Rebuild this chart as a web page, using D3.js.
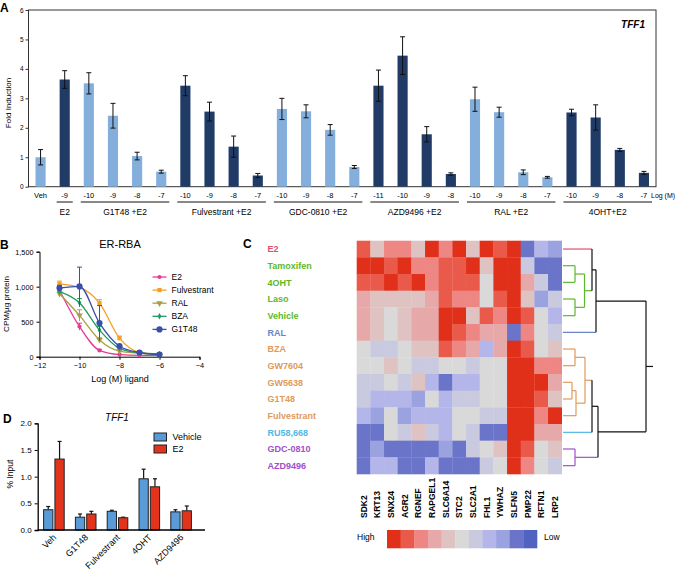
<!DOCTYPE html>
<html>
<head>
<meta charset="utf-8">
<script src="https://cdn.jsdelivr.net/npm/d3@7"></script>
<style>
  body { margin: 0; background: #fff; }
  svg { font-family: 'Liberation Sans', Arial, sans-serif; }
</style>
</head>
<body>
<svg class="fig" width="677" height="573"></svg>
<script>
// ---------- panel A data ----------
const aGroupNames = ['', 'E2', 'G1T48 +E2', 'Fulvestrant +E2', 'GDC-0810 +E2', 'AZD9496 +E2', 'RAL +E2', '4OHT+E2'];
const aDoses = [['Veh'], ['-9'], ['-10', '-9', '-8', '-7'], ['-10', '-9', '-8', '-7'], ['-10', '-9', '-8', '-7'],
                ['-11', '-10', '-9', '-8'], ['-10', '-9', '-8', '-7'], ['-10', '-9', '-8', '-7']];
const aValues = [[1.00], [3.64], [3.51, 2.41, 1.04, 0.51], [3.43, 2.55, 1.36, 0.38], [2.64, 2.56, 1.93, 0.67],
                 [3.43, 4.45, 1.78, 0.43], [2.97, 2.53, 0.49, 0.32], [2.52, 2.35, 1.25, 0.47]];
const aErrors = [[0.26], [0.30], [0.36, 0.42, 0.13, 0.05], [0.34, 0.32, 0.36, 0.07], [0.36, 0.22, 0.18, 0.05],
                 [0.53, 0.64, 0.26, 0.04], [0.41, 0.17, 0.08, 0.03], [0.11, 0.43, 0.05, 0.05]];
const aDark = [false, true, false, true, false, true, false, true];

// ---------- panel B data ----------
const bDoses = [-11, -10, -9, -8, -7, -6];
const bNames = ['E2', 'Fulvestrant', 'RAL', 'BZA', 'G1T48'];
const bValues = [
  [950, 430, 90, 30, 20, 20],
  [1040, 990, 765, 265, 60, 30],
  [900, 590, 240, 80, 50, 30],
  [930, 770, 380, 120, 55, 40],
  [980, 1005, 480, 150, 60, 30]
];
const bErrors = [
  [40, 50, 15, 5, 5, 5],
  [40, 30, 50, 30, 10, 5],
  [30, 80, 30, 10, 5, 5],
  [30, 60, 50, 20, 5, 5],
  [40, 275, 250, 20, 10, 5]
];

// ---------- panel C data ----------
const cRows = ['E2', 'Tamoxifen', '4OHT', 'Laso', 'Vehicle', 'RAL', 'BZA', 'GW7604', 'GW5638', 'G1T48',
               'Fulvestrant', 'RU58,668', 'GDC-0810', 'AZD9496'];
const cGenes = ['SDK2', 'KRT13', 'SNX24', 'AGR2', 'RGNEF', 'RAPGEL1', 'SLC6A14', 'STC2', 'SLC2A1', 'FHL1',
                'YWHAZ', 'SLFN5', 'PMP22', 'RFTN1', 'LRP2'];
const cLevels = [
  [4, 1, 3, 3, 1, 5, 3, 5, 1, 5, 4, 5, -4, -2, -3],
  [5, 5, 4, 5, 3, 3, 4, 4, 5, 1, 5, 5, -1, -4, -4],
  [4, 4, 5, 4, 5, 3, 4, 4, 4, 0, 5, 5, 2, -1, -4],
  [2, 1, 1, 1, 1, 2, 4, 3, 3, 0, 4, 5, 1, -3, -1],
  [2, 1, 0, 1, 2, 2, 5, 5, 1, 4, 3, 5, 4, 0, -2],
  [2, 1, 0, 1, 2, 2, 5, 4, 3, 2, 2, -4, 3, 0, -1],
  [0, -1, -1, 0, 1, 1, 4, 3, 2, -2, 2, 5, 4, 0, 1],
  [0, 0, 1, 0, -1, -1, 0, 0, -1, 0, 0, 5, 5, 3, 3],
  [-1, -1, 0, -1, 1, -2, -4, -2, -2, 0, 0, 5, 5, 5, 2],
  [-1, -2, -2, -2, -3, 0, -2, -1, -1, 0, 0, 5, 5, 4, 1],
  [-2, -3, 0, -3, -2, -2, -2, 0, 0, -1, -1, 5, 5, 3, 5],
  [-4, -4, 0, -1, 1, -1, -2, 0, -1, -4, -4, 5, 5, 2, 2],
  [-4, -3, -4, -4, -4, -4, -3, -4, -1, 0, 1, 5, 4, 0, 1],
  [-4, -2, -2, -4, -4, -2, -4, -4, -4, -1, 0, 5, 3, 0, -1]
];
const cRowColors = ['#e0506a', '#5cb82a', '#5cb82a', '#5cb82a', '#5cb82a', '#6a84c8', '#e09a5a', '#e09a5a',
                    '#e09a5a', '#e09a5a', '#e09a5a', '#4fb8e6', '#a050c8', '#a050c8'];
// high -> low
const cPalette = ['#e0301a', '#ea5a4a', '#ee8684', '#e6a8a8', '#dfc2c2', '#d9d9d9', '#c9c9e0', '#b4b6ea',
                  '#9aa2e0', '#6a74c8', '#5163c0'];
// dendrogram nodes: [left, right, height, colour]
const tamOht = ['Tamoxifen', '4OHT', 12, 'g'];
const lasoVeh = ['Laso', 'Vehicle', 12, 'g'];
const greenClust = [tamOht, lasoVeh, 21.5, 'g'];
const e2Clust = ['E2', greenClust, 29, 'k'];
const topClust = [e2Clust, 'RAL', 33, 'k'];
const bzaGw = ['BZA', 'GW7604', 12, 'o'];
const gwG1 = ['GW5638', 'G1T48', 9, 'o'];
const fulvClust = [gwG1, 'Fulvestrant', 13, 'o'];
const orangeClust = [bzaGw, fulvClust, 22, 'o'];
const ruClust = [orangeClust, 'RU58,668', 29, 'k'];
const purpleClust = ['GDC-0810', 'AZD9496', 12, 'p'];
const botClust = [ruClust, purpleClust, 35, 'k'];
const cTree = [topClust, botClust, 83, 'k'];
const cTreeColors = { g: '#5cb82a', o: '#e09a5a', p: '#a050c8', k: '#111' };

// ---------- panel D data ----------
const dGroups = ['Veh', 'G1T48', 'Fulvestrant', '4OHT', 'AZD9496'];
const dSeries = ['Vehicle', 'E2'];
const dVehicle = [0.38, 0.24, 0.35, 0.96, 0.34];
const dVehicleErr = [0.06, 0.06, 0.02, 0.18, 0.04];
const dE2 = [1.33, 0.30, 0.23, 0.81, 0.36];
const dE2Err = [0.33, 0.05, 0.01, 0.15, 0.09];

const svg = d3.select('svg.fig');

function panelLetter(txt, x, y) {
  svg.append('text').attr('x', x).attr('y', y).text(txt)
    .style('font-size', '12px').style('font-weight', 'bold');
}

// ================= Panel A =================
const aBars = [];
aGroupNames.forEach((g, gi) => {
  aDoses[gi].forEach((d, di) => {
    aBars.push({ id: gi + '_' + di, group: gi, dose: d, value: aValues[gi][di], err: aErrors[gi][di], dark: aDark[gi] });
  });
});

const aX = d3.scaleBand().domain(aBars.map(d => d.id)).range([28.5, 656]).paddingInner(0.58).paddingOuter(0.29);
const aY = d3.scaleLinear().domain([0, 6]).range([186.7, 10]);

const aGrp = svg.append('g').attr('class', 'panelA');

aGrp.append('rect')
  .attr('x', 28.5).attr('y', 10).attr('width', 656 - 28.5).attr('height', 186.7 - 10)
  .style('fill', 'none').style('stroke', '#333').style('stroke-width', 1);

aGrp.append('g')
  .attr('transform', 'translate(28.5,0)')
  .call(d3.axisLeft(aY).ticks(6).tickSize(3).tickFormat(d3.format('d')))
  .call(g => g.select('.domain').remove())
  .call(g => g.selectAll('text').style('font-size', '6.5px').style('font-family', 'inherit').attr('x', -5))
  .call(g => g.selectAll('line').style('stroke', '#333'));

aGrp.append('text')
  .attr('transform', 'translate(11,103) rotate(-90)')
  .style('text-anchor', 'middle').style('font-size', '8px')
  .text('Fold Induction');

aGrp.selectAll('rect.bar')
  .data(aBars).enter().append('rect')
  .attr('class', 'bar')
  .attr('x', d => aX(d.id)).attr('width', aX.bandwidth())
  .attr('y', d => aY(d.value)).attr('height', d => aY(0) - aY(d.value))
  .style('fill', d => d.dark ? '#1f3b66' : '#84afdc');

// error bars
const aErr = aGrp.selectAll('g.err').data(aBars).enter().append('g').attr('class', 'err')
  .attr('transform', d => `translate(${aX(d.id) + aX.bandwidth() / 2},0)`)
  .style('stroke', '#111').style('stroke-width', 1);
aErr.append('line').attr('y1', d => aY(d.value - d.err)).attr('y2', d => aY(d.value + d.err));
aErr.append('line').attr('x1', -2.5).attr('x2', 2.5).attr('y1', d => aY(d.value + d.err)).attr('y2', d => aY(d.value + d.err));
aErr.append('line').attr('x1', -2.5).attr('x2', 2.5).attr('y1', d => aY(d.value - d.err)).attr('y2', d => aY(d.value - d.err));

// dose labels
aGrp.selectAll('text.dose').data(aBars).enter().append('text')
  .attr('class', 'dose')
  .attr('x', d => aX(d.id) + aX.bandwidth() / 2).attr('y', 197.5)
  .style('text-anchor', 'middle').style('font-size', '7.5px')
  .text(d => d.dose);

aGrp.append('text').attr('x', 651).attr('y', 197.5).style('font-size', '7px').text('Log (M)');

// group lines and names
aGroupNames.forEach((g, gi) => {
  if (!g) return;
  const ids = aBars.filter(d => d.group === gi).map(d => d.id);
  const x0 = aX(ids[0]) - 3;
  const x1 = aX(ids[ids.length - 1]) + aX.bandwidth() + 3;
  aGrp.append('line').attr('x1', x0).attr('x2', x1).attr('y1', 202).attr('y2', 202)
    .style('stroke', '#111').style('stroke-width', 1);
  aGrp.append('text').attr('x', (x0 + x1) / 2).attr('y', 214.5)
    .style('text-anchor', 'middle').style('font-size', '8.5px').text(g);
});

aGrp.append('text').attr('x', 645).attr('y', 28)
  .style('text-anchor', 'end').style('font-size', '10px')
  .style('font-weight', 'bold').style('font-style', 'italic').text('TFF1');

panelLetter('A', 0, 12);

// ================= Panel B =================
const bX = d3.scaleLinear().domain([-12, -4]).range([39.5, 199.5]);
const bY = d3.scaleLinear().domain([0, 1500]).range([356.7, 251.7]);
const bColors = ['#e63c96', '#f5a020', '#a8a040', '#1f9a5f', '#3a4fa8'];
const bSymbols = [d3.symbolCircle, d3.symbolSquare, d3.symbolTriangle, d3.symbolDiamond, d3.symbolCircle];
const bSymSize = [14, 18, 18, 12, 30];
const bSymRot = [0, 0, 180, 0, 0];

const bGrp = svg.append('g').attr('class', 'panelB');

bGrp.append('g').attr('transform', 'translate(0,356.7)')
  .call(d3.axisBottom(bX).tickValues([-12, -10, -8, -6, -4]).tickSize(3))
  .call(g => g.selectAll('text').style('font-size', '7.3px').style('font-family', 'inherit'));
bGrp.append('g').attr('transform', 'translate(39.5,0)')
  .call(d3.axisLeft(bY).tickValues([0, 500, 1000, 1500]).tickSize(3))
  .call(g => g.selectAll('text').style('font-size', '7.3px').style('font-family', 'inherit'));

bGrp.append('text').attr('x', 120).attr('y', 382).style('text-anchor', 'middle').style('font-size', '9px')
  .text('Log (M) ligand');
bGrp.append('text').attr('transform', 'translate(9,304) rotate(-90)').style('text-anchor', 'middle')
  .style('font-size', '8px').text('CPM/µg protein');
bGrp.append('text').attr('x', 120).attr('y', 248).style('text-anchor', 'middle').style('font-size', '11px')
  .text('ER-RBA');

const bLine = d3.line().x(d => bX(d[0])).y(d => bY(d[1])).curve(d3.curveMonotoneX);

bNames.forEach((name, si) => {
  const pts = bDoses.map((x, i) => [x, bValues[si][i], bErrors[si][i]]);
  const s = bGrp.append('g').attr('class', 'series').style('stroke', bColors[si]).style('fill', bColors[si]);
  s.append('path').attr('d', bLine(pts)).style('fill', 'none').style('stroke-width', 1.3);
  const eb = s.selectAll('g.eb').data(pts).enter().append('g').attr('class', 'eb').style('stroke-width', 1);
  eb.append('line').attr('x1', d => bX(d[0])).attr('x2', d => bX(d[0]))
    .attr('y1', d => bY(d[1] - d[2])).attr('y2', d => bY(d[1] + d[2]));
  eb.append('line').attr('x1', d => bX(d[0]) - 2.5).attr('x2', d => bX(d[0]) + 2.5)
    .attr('y1', d => bY(d[1] + d[2])).attr('y2', d => bY(d[1] + d[2]));
  s.selectAll('path.sym').data(pts).enter().append('path').attr('class', 'sym')
    .attr('d', d3.symbol().type(bSymbols[si]).size(bSymSize[si]))
    .attr('transform', d => `translate(${bX(d[0])},${bY(d[1])}) rotate(${bSymRot[si]})`)
    .style('stroke', 'none');

  // legend entry
  const ly = 277 + si * 13.1;
  bGrp.append('line').attr('x1', 152.5).attr('x2', 166.5).attr('y1', ly).attr('y2', ly)
    .style('stroke', bColors[si]).style('stroke-width', 1.3);
  bGrp.append('path').attr('d', d3.symbol().type(bSymbols[si]).size(bSymSize[si]))
    .attr('transform', `translate(159.5,${ly}) rotate(${bSymRot[si]})`).style('fill', bColors[si]);
  bGrp.append('text').attr('x', 171.5).attr('y', ly + 3).style('font-size', '8.5px').text(name);
});

panelLetter('B', 0, 248.5);

// ================= Panel C =================
const cX = d3.scaleBand().domain(cGenes).range([356.7, 561.7]);
const cY = d3.scaleBand().domain(cRows).range([240.7, 474]);
const cColor = d3.scaleQuantize().domain([-5.5, 5.5]).range(cPalette.slice().reverse());

const cGrp = svg.append('g').attr('class', 'panelC');

cLevels.forEach((row, ri) => {
  cGrp.selectAll(null).data(row).enter().append('rect')
    .attr('x', (d, ci) => cX(cGenes[ci])).attr('y', cY(cRows[ri]))
    .attr('width', cX.bandwidth() + 0.3).attr('height', cY.bandwidth() + 0.3)
    .style('fill', d => cColor(d));
});

cGrp.selectAll('text.rowLab').data(cRows).enter().append('text')
  .attr('class', 'rowLab')
  .attr('x', 267.5).attr('y', d => cY(d) + cY.bandwidth() / 2 + 3.2)
  .style('font-size', '9px').style('font-weight', 'bold')
  .style('fill', (d, i) => cRowColors[i]).text(d => d);

cGrp.selectAll('text.geneLab').data(cGenes).enter().append('text')
  .attr('class', 'geneLab')
  .attr('transform', d => `translate(${cX(d) + cX.bandwidth() / 2 + 3.2},518) rotate(-90)`)
  .style('font-size', '8.5px').style('font-weight', 'bold').text(d => d);

// dendrogram
const dX = d3.scaleLinear().domain([0, 90]).range([563, 653]);
function layoutNode(n) {
  if (typeof n === 'string') {
    const ri = cRows.indexOf(n);
    return { y: cY(n) + cY.bandwidth() / 2, h: 0, color: cRowColors[ri] };
  }
  const a = layoutNode(n[0]);
  const b = layoutNode(n[1]);
  const node = { y: (a.y + b.y) / 2, h: n[2], color: cTreeColors[n[3]] };
  // horizontal legs in the child's colour, vertical in the node's colour
  [a, b].forEach(c => {
    cGrp.append('line').attr('x1', dX(c.h)).attr('x2', dX(node.h)).attr('y1', c.y).attr('y2', c.y)
      .style('stroke', c.color).style('stroke-width', 1.2);
  });
  cGrp.append('line').attr('x1', dX(node.h)).attr('x2', dX(node.h)).attr('y1', a.y).attr('y2', b.y)
    .style('stroke', node.color).style('stroke-width', 1.2);
  return node;
}
const root = layoutNode(cTree);
cGrp.append('line').attr('x1', dX(root.h)).attr('x2', dX(90)).attr('y1', root.y).attr('y2', root.y)
  .style('stroke', '#111').style('stroke-width', 1.2);

// colour key
const keyX = d3.scaleBand().domain(d3.range(cPalette.length)).range([387, 537]);
cGrp.selectAll('rect.key').data(cPalette).enter().append('rect')
  .attr('class', 'key')
  .attr('x', (d, i) => keyX(i)).attr('y', 530).attr('width', keyX.bandwidth() + 0.3).attr('height', 18.3)
  .style('fill', d => d);
cGrp.append('text').attr('x', 357).attr('y', 539.5).style('font-size', '8.5px').text('High');
cGrp.append('text').attr('x', 544).attr('y', 539.5).style('font-size', '8.5px').text('Low');

panelLetter('C', 243, 248);

// ================= Panel D =================
const dX0 = d3.scaleBand().domain(dGroups).range([38, 197]);
const dX1 = d3.scaleBand().domain(dSeries).range([-10.3, 10.3]).paddingInner(0.18);
const dY = d3.scaleLinear().domain([0, 2]).range([530, 423.3]);
const dColors = { Vehicle: '#5a9ad6', E2: '#e2341d' };

const dGrp = svg.append('g').attr('class', 'panelD');

const dRows = dGroups.map((g, i) => [
  { group: g, series: 'Vehicle', value: dVehicle[i], err: dVehicleErr[i] },
  { group: g, series: 'E2', value: dE2[i], err: dE2Err[i] }
]).flat();

const dBar = dGrp.selectAll('g.dbar').data(dRows).enter().append('g').attr('class', 'dbar')
  .attr('transform', d => `translate(${dX0(d.group) + dX0.bandwidth() / 2 + dX1(d.series)},0)`);
dBar.append('line').attr('x1', dX1.bandwidth() / 2).attr('x2', dX1.bandwidth() / 2)
  .attr('y1', d => dY(d.value)).attr('y2', d => dY(d.value + d.err))
  .style('stroke', '#111').style('stroke-width', 1.2);
dBar.append('line').attr('x1', dX1.bandwidth() / 2 - 2).attr('x2', dX1.bandwidth() / 2 + 2)
  .attr('y1', d => dY(d.value + d.err)).attr('y2', d => dY(d.value + d.err))
  .style('stroke', '#111').style('stroke-width', 1.2);
dBar.append('rect')
  .attr('width', dX1.bandwidth()).attr('y', d => dY(d.value)).attr('height', d => dY(0) - dY(d.value))
  .style('fill', d => dColors[d.series]).style('stroke', '#222').style('stroke-width', 1);

dGrp.append('g').attr('transform', 'translate(37.7,0)')
  .call(d3.axisLeft(dY).tickValues([0, 0.5, 1, 1.5, 2]).tickFormat(d3.format('.1f')).tickSize(3))
  .call(g => g.selectAll('text').style('font-size', '8px').style('font-family', 'inherit'))
  .call(g => g.select('.domain').style('stroke-width', 1.3));
dGrp.append('line').attr('x1', 37.7).attr('x2', 205).attr('y1', 530).attr('y2', 530)
  .style('stroke', '#000').style('stroke-width', 1.3);

dGrp.selectAll('text.dlab').data(dGroups).enter().append('text')
  .attr('class', 'dlab')
  .attr('transform', d => `translate(${dX0(d) + dX0.bandwidth() / 2 + 3},538) rotate(-45)`)
  .style('text-anchor', 'end').style('font-size', '9px').text(d => d);

dGrp.append('text').attr('transform', 'translate(13,474) rotate(-90)').style('text-anchor', 'middle')
  .style('font-size', '8.5px').text('% Input');
dGrp.append('text').attr('x', 117).attr('y', 421).style('text-anchor', 'middle')
  .style('font-size', '10px').style('font-style', 'italic').text('TFF1');

dSeries.forEach((s, i) => {
  const ly = 433 + i * 12;
  dGrp.append('rect').attr('x', 154).attr('y', ly).attr('width', 12.5).attr('height', 8)
    .style('fill', dColors[s]).style('stroke', '#222').style('stroke-width', 1);
  dGrp.append('text').attr('x', 172.5).attr('y', ly + 7.3).style('font-size', '9px').text(s);
});

panelLetter('D', 3, 423);
</script>
</body>
</html>
